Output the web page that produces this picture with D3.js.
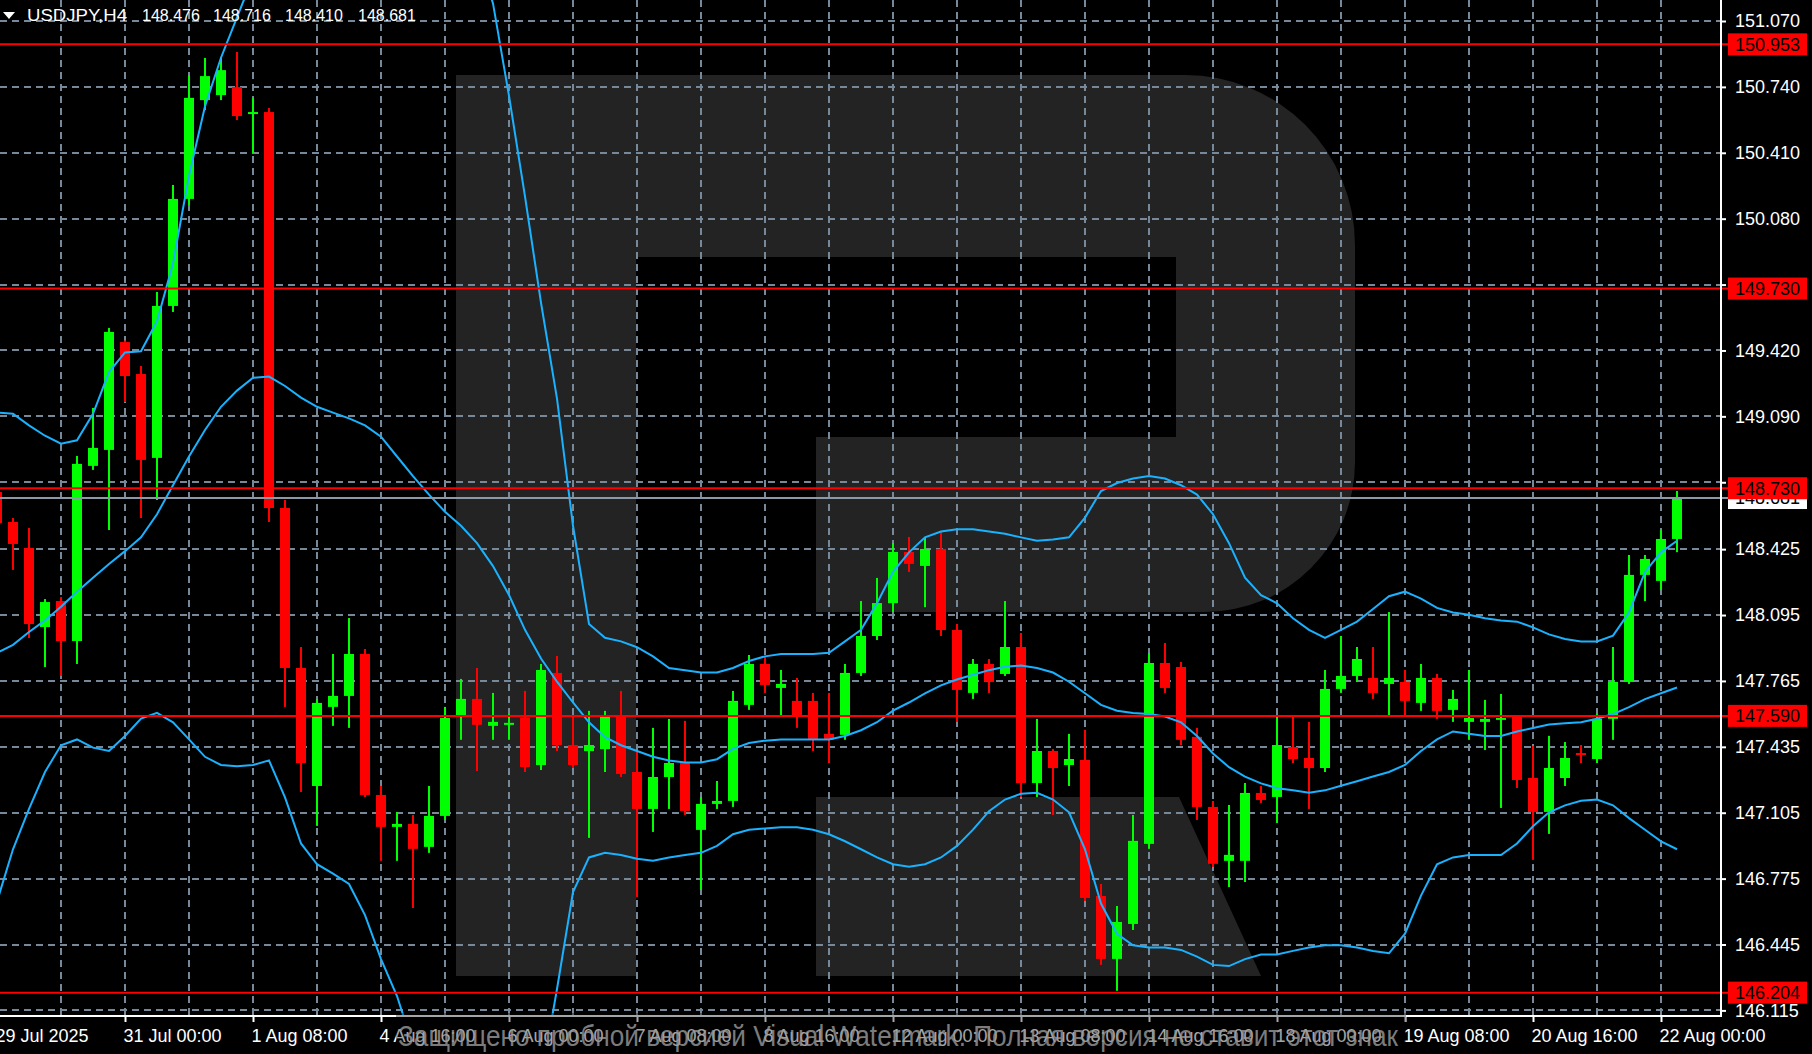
<!DOCTYPE html>
<html><head><meta charset="utf-8">
<script src="https://cdn.jsdelivr.net/npm/d3@7"></script>
<style>html,body{margin:0;padding:0;background:#000;overflow:hidden}</style>
</head><body><svg id="c" width="1812" height="1054"></svg>
<script>
const open = [148.711,148.561,148.431,148.035,148.165,147.965,148.842,148.922,149.462,149.302,
148.882,149.643,150.179,150.674,150.699,150.739,150.604,150.614,148.631,147.830,
147.239,147.635,147.690,147.900,147.194,147.034,147.049,146.934,147.089,147.590,
147.675,147.540,147.545,147.580,147.344,147.805,147.444,147.414,147.424,147.590,
147.309,147.124,147.284,147.354,147.019,147.149,147.164,147.645,147.850,147.730,
147.665,147.665,147.500,147.495,147.805,147.990,148.155,148.411,148.341,148.426,
148.020,147.705,147.850,147.800,147.935,147.254,147.414,147.344,147.369,146.688,
146.373,146.548,146.949,147.855,147.835,147.485,147.134,146.864,146.864,147.204,
147.184,147.434,147.379,147.329,147.725,147.790,147.780,147.750,147.760,147.655,
147.780,147.620,147.560,147.560,147.570,147.585,147.279,147.109,147.279,147.404,
147.374,147.575,147.760,148.296,148.266,148.476];
const high = [148.740,148.581,148.531,148.175,148.185,148.892,149.132,149.533,149.470,149.342,
149.713,150.249,150.799,150.885,150.890,150.915,150.684,150.634,148.671,147.935,
147.675,147.900,148.080,147.925,147.239,147.109,147.094,147.239,147.635,147.775,
147.830,147.705,147.600,147.715,147.850,147.890,147.590,147.615,147.615,147.715,
147.414,147.530,147.575,147.565,147.184,147.264,147.715,147.895,147.890,147.820,
147.780,147.705,147.705,147.850,148.165,148.281,148.456,148.486,148.486,148.511,
148.050,147.875,147.875,148.165,148.005,147.575,147.424,147.500,147.520,146.748,
146.638,147.094,147.905,147.955,147.860,147.530,147.164,147.144,147.254,147.239,
147.590,147.590,147.560,147.820,147.990,147.935,147.935,148.110,147.820,147.850,
147.800,147.720,147.820,147.670,147.700,147.590,147.439,147.490,147.459,147.444,
147.600,147.935,148.396,148.396,148.520,148.716];
const low = [148.500,148.321,147.980,147.835,147.790,147.850,148.822,148.521,149.162,148.581,
148.671,149.613,150.148,150.624,150.674,150.574,150.409,148.561,147.635,147.209,
147.039,147.540,147.530,147.184,146.864,146.864,146.628,146.904,147.069,147.470,
147.314,147.470,147.470,147.309,147.319,147.414,147.329,146.979,147.309,147.284,
146.683,147.009,147.124,147.094,146.718,147.124,147.134,147.620,147.705,147.590,
147.530,147.414,147.354,147.470,147.790,147.970,148.110,148.311,148.135,147.990,
147.560,147.675,147.705,147.790,147.184,147.184,147.094,147.239,146.663,146.343,
146.213,146.518,146.924,147.705,147.444,147.069,146.834,146.733,146.758,147.154,
147.054,147.354,147.124,147.309,147.705,147.760,147.675,147.590,147.590,147.615,
147.575,147.560,147.470,147.419,147.129,147.229,146.869,146.999,147.239,147.354,
147.354,147.470,147.750,148.165,148.220,148.410];
const close = [148.556,148.451,148.050,148.160,147.965,148.852,148.932,149.513,149.292,148.872,
149.643,150.179,150.685,150.794,150.824,150.594,150.614,148.631,147.830,147.354,
147.655,147.690,147.900,147.194,147.034,147.049,146.924,147.089,147.580,147.675,
147.545,147.560,147.555,147.334,147.820,147.444,147.344,147.444,147.590,147.299,
147.124,147.284,147.354,147.114,147.149,147.164,147.665,147.850,147.745,147.750,
147.590,147.470,147.470,147.805,147.990,148.155,148.411,148.351,148.426,148.020,
147.720,147.850,147.760,147.935,147.254,147.414,147.329,147.374,146.678,146.373,
146.558,146.964,147.855,147.730,147.470,147.134,146.849,146.894,147.204,147.169,
147.444,147.374,147.329,147.725,147.790,147.875,147.705,147.780,147.665,147.780,
147.615,147.675,147.580,147.575,147.580,147.269,147.109,147.329,147.379,147.394,
147.575,147.760,148.296,148.376,148.476,148.681];

const bandUpper = [149.109,149.103,149.045,148.993,148.953,148.970,149.103,149.312,149.410,149.416,
149.566,149.856,150.295,150.643,150.886,151.088,151.291,151.493,151.696,151.898,
152.101,152.274,152.419,152.506,152.535,152.477,152.332,152.130,151.898,151.638,
151.406,151.158,150.695,150.191,149.659,149.179,148.542,148.050,147.981,147.963,
147.934,147.888,147.830,147.819,147.807,147.807,147.830,147.865,147.888,147.900,
147.900,147.900,147.906,147.963,148.021,148.154,148.311,148.409,148.484,148.513,
148.525,148.525,148.513,148.502,148.484,148.467,148.473,148.484,148.583,148.716,
148.756,148.779,148.791,148.779,148.745,148.698,148.600,148.455,148.282,148.195,
148.154,148.079,148.021,147.981,148.021,148.062,148.125,148.189,148.212,148.177,
148.131,148.108,148.096,148.079,148.068,148.062,148.033,147.998,147.975,147.963,
147.963,147.992,148.108,148.311,148.409,148.467];
const bandMiddle = [147.906,147.946,148.010,148.068,148.137,148.212,148.282,148.351,148.415,148.484,
148.600,148.745,148.889,149.022,149.138,149.219,149.283,149.289,149.242,149.184,
149.138,149.109,149.080,149.045,148.988,148.889,148.791,148.698,148.612,148.542,
148.455,148.340,148.195,148.021,147.877,147.761,147.657,147.558,147.483,147.443,
147.414,147.385,147.367,147.356,147.356,147.373,147.425,147.454,147.466,147.472,
147.472,147.472,147.472,147.489,147.518,147.558,147.616,147.657,147.703,147.743,
147.772,147.796,147.819,147.836,147.842,147.830,147.807,147.761,147.703,147.645,
147.616,147.605,147.599,147.587,147.558,147.489,147.402,147.333,147.286,147.252,
147.228,147.217,147.205,147.217,147.240,147.263,147.286,147.309,147.344,147.414,
147.472,147.512,147.500,147.489,147.489,147.512,147.529,147.547,147.553,147.558,
147.576,147.599,147.634,147.674,147.703,147.732];
const bandLower = [146.660,146.922,147.124,147.309,147.443,147.472,147.431,147.414,147.489,147.576,
147.605,147.558,147.472,147.385,147.344,147.338,147.344,147.367,147.182,146.951,
146.847,146.800,146.748,146.592,146.372,146.187,145.938,145.707,145.533,145.417,
145.359,145.359,145.417,145.533,145.764,146.222,146.708,146.881,146.904,146.893,
146.875,146.864,146.881,146.893,146.904,146.939,146.997,147.020,147.026,147.032,
147.032,147.020,146.997,146.962,146.922,146.881,146.847,146.835,146.847,146.881,
146.939,147.020,147.113,147.171,147.200,147.205,147.171,147.107,146.922,146.650,
146.499,146.441,146.430,146.430,146.418,146.384,146.343,146.337,146.372,146.395,
146.395,146.413,146.430,146.441,146.441,146.430,146.413,146.401,146.499,146.690,
146.847,146.881,146.893,146.893,146.893,146.951,147.037,147.107,147.142,147.165,
147.171,147.142,147.078,147.020,146.962,146.922];

const yTicks = [151.070,150.740,150.410,150.080,149.750,149.420,149.090,148.760,148.425,148.095,147.765,147.435,147.105,146.775,146.445,146.115];
const xTickIndex = [0,8,16,24,32,40,48,56,64,72,80,88,96,104];
const xTickLabels = ["29 Jul 2025","31 Jul 00:00","1 Aug 08:00","4 Aug 16:00","6 Aug 00:00","7 Aug 08:00","8 Aug 16:00","12 Aug 00:00","13 Aug 08:00","14 Aug 16:00","18 Aug 00:00","19 Aug 08:00","20 Aug 16:00","22 Aug 00:00"];
const levels = [150.953,149.730,148.730,147.590,146.204];
const lastPrice = 148.681;
const header = {symbol:"USDJPY,H4", ohlc:["148.476","148.716","148.410","148.681"]};
const watermarkText = "Защищено пробной версией Visual Watermark. Полная версия не ставит этот знак";

const W = 1812, H = 1054, plotR = 1721, plotB = 1016;
const FONT = "'Liberation Sans', Arial, sans-serif";
const svg = d3.select("#c");
const x = d3.scaleLinear().domain([0, 105]).range([-3, 1677]);
const y = d3.scaleLinear().domain([151.070, 146.115]).range([21, 1010.4]);

svg.append("rect").attr("width", W).attr("height", H).attr("fill", "#000");
svg.append("defs").append("clipPath").attr("id","plot").append("rect")
  .attr("x",0).attr("y",0).attr("width",plotR).attr("height",plotB);

// background logo
const logo = svg.append("g").attr("fill","#232323");
logo.append("path").attr("d","M456,75 H1185 A170,170 0 0 1 1355,245 V462 A150,150 0 0 1 1205,612 H816 V437 H1176 V257 H636 V976 H456 Z");
logo.append("path").attr("d","M816,797 H1179 L1261,976 H816 Z");

// grid
const grid = svg.append("g").attr("stroke","#778899").attr("stroke-width",2).attr("stroke-dasharray","7,5");
grid.selectAll("line.h").data(yTicks).join("line").attr("class","h")
  .attr("x1",0).attr("x2",plotR).attr("y1",d=>Math.round(y(d))).attr("y2",d=>Math.round(y(d)));
const vIdx = d3.range(0, 106, 4);
grid.selectAll("line.v").data(vIdx).join("line").attr("class","v")
  .attr("x1",d=>x(d)).attr("x2",d=>x(d)).attr("y1",0).attr("y2",plotB);

// candles
const bars = d3.range(open.length);
const cg = svg.append("g").attr("clip-path","url(#plot)");
bars.forEach(i => {
  const col = close[i] >= open[i] ? "#00ff00" : "#ff0000";
  const cx = x(i);
  cg.append("rect").attr("x",cx-1).attr("width",2)
    .attr("y",y(high[i])).attr("height",Math.max(1,y(low[i])-y(high[i]))).attr("fill",col);
  const top = y(Math.max(open[i],close[i])), bot = y(Math.min(open[i],close[i]));
  cg.append("rect").attr("x",cx-5).attr("width",10)
    .attr("y",top).attr("height",Math.max(2,bot-top)).attr("fill",col);
});

// bands
const line = d3.line().x((d,i)=>x(i)).y(d=>y(d));
const bg = svg.append("g").attr("clip-path","url(#plot)").attr("fill","none").attr("stroke","#1ab2ff").attr("stroke-width",2);
[bandUpper, bandMiddle, bandLower].forEach(b => bg.append("path").attr("d", line(b)));

// current price line
svg.append("line").attr("x1",0).attr("x2",1728).attr("y1",y(lastPrice)).attr("y2",y(lastPrice))
  .attr("stroke","#8c98a6").attr("stroke-width",2);
// level lines
svg.selectAll("line.lvl").data(levels).join("line").attr("class","lvl")
  .attr("x1",0).attr("x2",1728).attr("y1",d=>y(d)).attr("y2",d=>y(d))
  .attr("stroke","#ff0000").attr("stroke-width",2);

// axes lines
svg.append("line").attr("x1",plotR).attr("x2",plotR).attr("y1",0).attr("y2",plotB+1).attr("stroke","#fff").attr("stroke-width",2);
svg.append("line").attr("x1",0).attr("x2",plotR+1).attr("y1",plotB).attr("y2",plotB).attr("stroke","#fff").attr("stroke-width",2);

// y axis
const yAxis = d3.axisRight(y).tickValues(yTicks).tickSize(5).tickPadding(9).tickFormat(d=>d.toFixed(3));
const ya = svg.append("g").attr("transform",`translate(${plotR},0)`).call(yAxis);
ya.select(".domain").remove();
ya.selectAll(".tick line").attr("stroke","#fff").attr("stroke-width",2);
ya.selectAll(".tick text").attr("fill","#fff").style("font-family",FONT).style("font-size","18px")
  .style("display", d => levels.some(l => Math.abs(y(l)-y(d)) < 14) ? "none" : null);

// x axis
const xAxis = d3.axisBottom(x).tickValues(xTickIndex).tickSize(6).tickPadding(7).tickFormat((d,i)=>xTickLabels[i]);
const xa = svg.append("g").attr("transform",`translate(0,${plotB})`).call(xAxis);
xa.select(".domain").remove();
xa.selectAll(".tick line").attr("stroke","#fff").attr("stroke-width",2);
xa.selectAll(".tick text").attr("fill","#fff").attr("text-anchor","start").attr("x",-2)
  .style("font-family",FONT).style("font-size","18px");

// price label boxes
function priceBox(v, bgc, fg, label){
  const g = svg.append("g").attr("transform",`translate(1728,${y(v)})`);
  g.append("rect").attr("x",0).attr("y",-11).attr("width",79).attr("height",22).attr("fill",bgc);
  g.append("text").attr("x",7).attr("dy","0.35em").attr("fill",fg)
    .style("font-family",FONT).style("font-size","18px").text(label);
}
priceBox(lastPrice, "#ffffff", "#000000", lastPrice.toFixed(3));
levels.forEach(l => priceBox(l, "#ff0000", "#000000", l.toFixed(3)));

// header
svg.append("path").attr("d","M3,12 L15,12 L9,19 Z").attr("fill","#fff");
const hdr = svg.append("g").attr("fill","#fff").style("font-family",FONT).style("font-size","16px");
hdr.append("text").attr("x",27).attr("y",21).attr("textLength",100).attr("lengthAdjust","spacingAndGlyphs").text(header.symbol);
[142,213,285,358].forEach((px,i)=> hdr.append("text").attr("x",px).attr("y",21).text(header.ohlc[i]));

// watermark strip
svg.append("rect").attr("x",396).attr("y",1013).attr("width",1010).attr("height",41).attr("fill","#000").attr("opacity",0.35);
svg.append("text").attr("x",398).attr("y",1046).attr("fill","#9a9a9a").attr("opacity",0.8)
  .attr("textLength",1000).attr("lengthAdjust","spacingAndGlyphs")
  .style("font-family",FONT).style("font-size","29px").text(watermarkText);
</script></body></html>
